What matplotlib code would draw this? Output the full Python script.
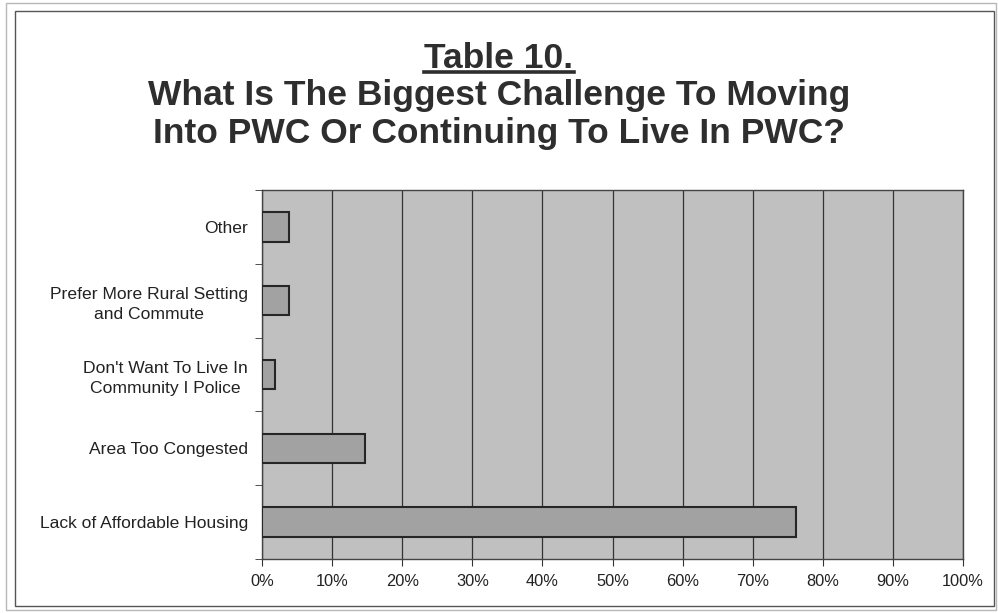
import matplotlib
matplotlib.use("Agg")
import matplotlib.pyplot as plt
from matplotlib.patches import Rectangle
from matplotlib.lines import Line2D
import numpy as np

categories = [
    "Lack of Affordable Housing",
    "Area Too Congested",
    "Don't Want To Live In\nCommunity I Police",
    "Prefer More Rural Setting\nand Commute",
    "Other",
]
values = [76.2, 14.7, 1.9, 3.8, 3.8]
xtick_values = list(range(0, 101, 10))
xtick_labels = [f"{v}%" for v in xtick_values]

plt.rcParams["font.family"] = ["Liberation Sans", "DejaVu Sans"]

fig = plt.figure(figsize=(9.98, 6.13), dpi=100)
fig.patch.set_facecolor("white")

# Outer frame lines
fig.add_artist(Rectangle((6 / 998, 1 - 610 / 613), (996 - 6) / 998, (610 - 3) / 613,
                         transform=fig.transFigure, fill=False,
                         edgecolor="#b8b8b8", linewidth=1.0))
fig.add_artist(Rectangle((15 / 998, 1 - 606 / 613), (994 - 15) / 998, (606 - 11) / 613,
                         transform=fig.transFigure, fill=False,
                         edgecolor="#555555", linewidth=1.0))

ax = fig.add_axes([262 / 998, 1 - 559 / 613, (963 - 262) / 998, (559 - 190) / 613])
ax.set_facecolor("#c0c0c0")

y = np.arange(len(categories))
ax.barh(y, values, height=0.4, color="#a2a2a2", edgecolor="#262626",
        linewidth=1.5, zorder=3)

ax.set_xlim(0, 100)
ax.set_ylim(-0.5, len(categories) - 0.5)
ax.set_xticks(xtick_values)
ax.set_xticklabels(xtick_labels, fontsize=11.8, color="#222222")
ax.xaxis.grid(True, color="#333333", linewidth=0.9, zorder=1)
ax.set_axisbelow(True)

ax.set_yticks(y)
ax.set_yticklabels(categories, fontsize=12.6, color="#222222",
                   multialignment="center", linespacing=1.4)
ax.set_yticks(np.arange(-0.5, len(categories)), minor=True)
ax.tick_params(axis="y", which="major", length=0, pad=10)
ax.tick_params(axis="y", which="minor", length=5, color="#333333", direction="out")
ax.tick_params(axis="x", length=5, color="#333333", direction="out", pad=6)

for s in ax.spines.values():
    s.set_color("#444444")
    s.set_linewidth(1.0)

title_color = "#2e2e2e"
t1 = fig.text(0.5, 1 - 58 / 613, "Table 10.", ha="center", va="center",
              fontsize=25.5, fontweight="bold", color=title_color)
fig.text(0.5, 1 - 96 / 613, "What Is The Biggest Challenge To Moving",
         ha="center", va="center", fontsize=25.5, fontweight="bold", color=title_color)
fig.text(0.5, 1 - 134 / 613, "Into PWC Or Continuing To Live In PWC?",
         ha="center", va="center", fontsize=25.5, fontweight="bold", color=title_color)

# Underline beneath the table number
fig.canvas.draw()
bb = t1.get_window_extent(renderer=fig.canvas.get_renderer())
inv = fig.transFigure.inverted()
(x0, y0), (x1, y1) = inv.transform([(bb.x0, bb.y0), (bb.x1, bb.y1)])
fig.add_artist(Line2D([x0, x1], [y0 + 0.004, y0 + 0.004], transform=fig.transFigure,
                      color=title_color, linewidth=2.6))

fig.savefig("out.png", dpi=100, facecolor="white")
